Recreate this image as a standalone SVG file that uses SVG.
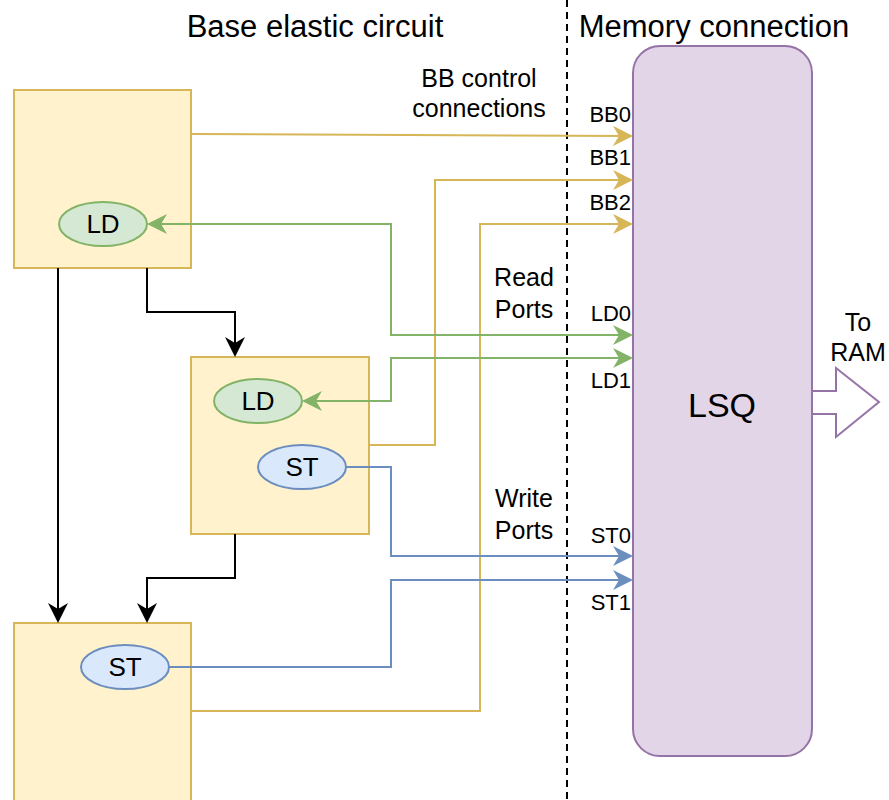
<svg xmlns="http://www.w3.org/2000/svg" width="889" height="800" viewBox="0 0 889 800">
<style>
text{font-family:"Liberation Sans",Arial,sans-serif;fill:#000}
.box{fill:#fff2cc;stroke:#d6b656;stroke-width:2}
.ld{fill:#d5e8d4;stroke:#82b366;stroke-width:2}
.st{fill:#dae8fc;stroke:#6c8ebf;stroke-width:2}
.w{fill:none;stroke-width:2}
.k{stroke:#000}
.y{stroke:#d6b656}
.g{stroke:#82b366}
.b{stroke:#6c8ebf}
.lbl{font-size:22px;text-anchor:end}
.mid{text-anchor:middle}
</style>
<defs>
<marker id="ak" markerUnits="userSpaceOnUse" markerWidth="22" markerHeight="22" refX="15" refY="10" orient="auto"><path d="M0,0 L20,10 L0,20 L6,10 Z" fill="#000"/></marker>
<marker id="ay" markerUnits="userSpaceOnUse" markerWidth="22" markerHeight="22" refX="15" refY="10" orient="auto"><path d="M0,0 L20,10 L0,20 L6,10 Z" fill="#d6b656"/></marker>
<marker id="ag" markerUnits="userSpaceOnUse" markerWidth="22" markerHeight="22" refX="15" refY="10" orient="auto-start-reverse"><path d="M0,0 L20,10 L0,20 L6,10 Z" fill="#82b366"/></marker>
<marker id="ab" markerUnits="userSpaceOnUse" markerWidth="22" markerHeight="22" refX="15" refY="10" orient="auto"><path d="M0,0 L20,10 L0,20 L6,10 Z" fill="#6c8ebf"/></marker>
</defs>
<rect width="889" height="800" fill="#fff"/>
<line x1="567" y1="0" x2="567" y2="800" stroke="#000" stroke-width="2" stroke-dasharray="7 5"/>
<text x="315" y="37" font-size="31" class="mid">Base elastic circuit</text>
<text x="714" y="37" font-size="31" class="mid">Memory connection</text>
<g id="lsq">
<rect x="633" y="46" width="179" height="710" rx="27" fill="#e1d5e7" stroke="#9673a6" stroke-width="2"/>
<text x="722" y="417" font-size="34" class="mid">LSQ</text>
</g>
<g id="toram">
<polygon points="812,391 836,391 836,368 879,402 836,437 836,414 812,414" fill="#fff" stroke="#9673a6" stroke-width="2"/>
<text x="858" y="331" font-size="25" class="mid">To</text>
<text x="858" y="361" font-size="25" class="mid">RAM</text>
</g>
<g id="bb1">
<rect class="box" x="14" y="90" width="177" height="178"/>
<ellipse class="ld" cx="103" cy="224" rx="44" ry="22"/>
<text x="103" y="233" font-size="26" class="mid">LD</text>
</g>
<g id="bb2">
<rect class="box" x="191" y="357" width="178" height="177"/>
<ellipse class="ld" cx="258" cy="401" rx="44" ry="22"/>
<text x="258" y="410" font-size="26" class="mid">LD</text>
<ellipse class="st" cx="302" cy="467" rx="44" ry="22"/>
<text x="302" y="476" font-size="26" class="mid">ST</text>
</g>
<g id="bb3">
<rect class="box" x="14" y="623" width="177" height="180"/>
<ellipse class="st" cx="125" cy="667" rx="44" ry="22"/>
<text x="125" y="676" font-size="26" class="mid">ST</text>
</g>
<g id="connectors">
<path class="w k" d="M58,268 V618" marker-end="url(#ak)"/>
<path class="w k" d="M147,268 V312 H235 V352" marker-end="url(#ak)"/>
<path class="w k" d="M235,534 V578 H147 V618" marker-end="url(#ak)"/>
<path class="w y" d="M191,134 L628,136" marker-end="url(#ay)"/>
<path class="w y" d="M369,445 H435 V180 H628" marker-end="url(#ay)"/>
<path class="w y" d="M191,711 H480 V224 H628" marker-end="url(#ay)"/>
<path class="w g" d="M152,224 H391 V335 H628" marker-start="url(#ag)" marker-end="url(#ag)"/>
<path class="w g" d="M307,401 H391 V358 H628" marker-start="url(#ag)" marker-end="url(#ag)"/>
<path class="w b" d="M346,467 H391 V556 H628" marker-end="url(#ab)"/>
<path class="w b" d="M169,667 H391 V580 H628" marker-end="url(#ab)"/>
</g>
<g id="labels">
<text x="479" y="87" font-size="25" class="mid">BB control</text>
<text x="479" y="117" font-size="25" class="mid">connections</text>
<text x="524" y="286" font-size="25" class="mid">Read</text>
<text x="524" y="318" font-size="25" class="mid">Ports</text>
<text x="524" y="507" font-size="25" class="mid">Write</text>
<text x="524" y="539" font-size="25" class="mid">Ports</text>
<text x="631" y="122" class="lbl">BB0</text>
<text x="631" y="165" class="lbl">BB1</text>
<text x="631" y="210" class="lbl">BB2</text>
<text x="631" y="321" class="lbl">LD0</text>
<text x="631" y="388" class="lbl">LD1</text>
<text x="631" y="543" class="lbl">ST0</text>
<text x="631" y="610" class="lbl">ST1</text>
</g>
</svg>
